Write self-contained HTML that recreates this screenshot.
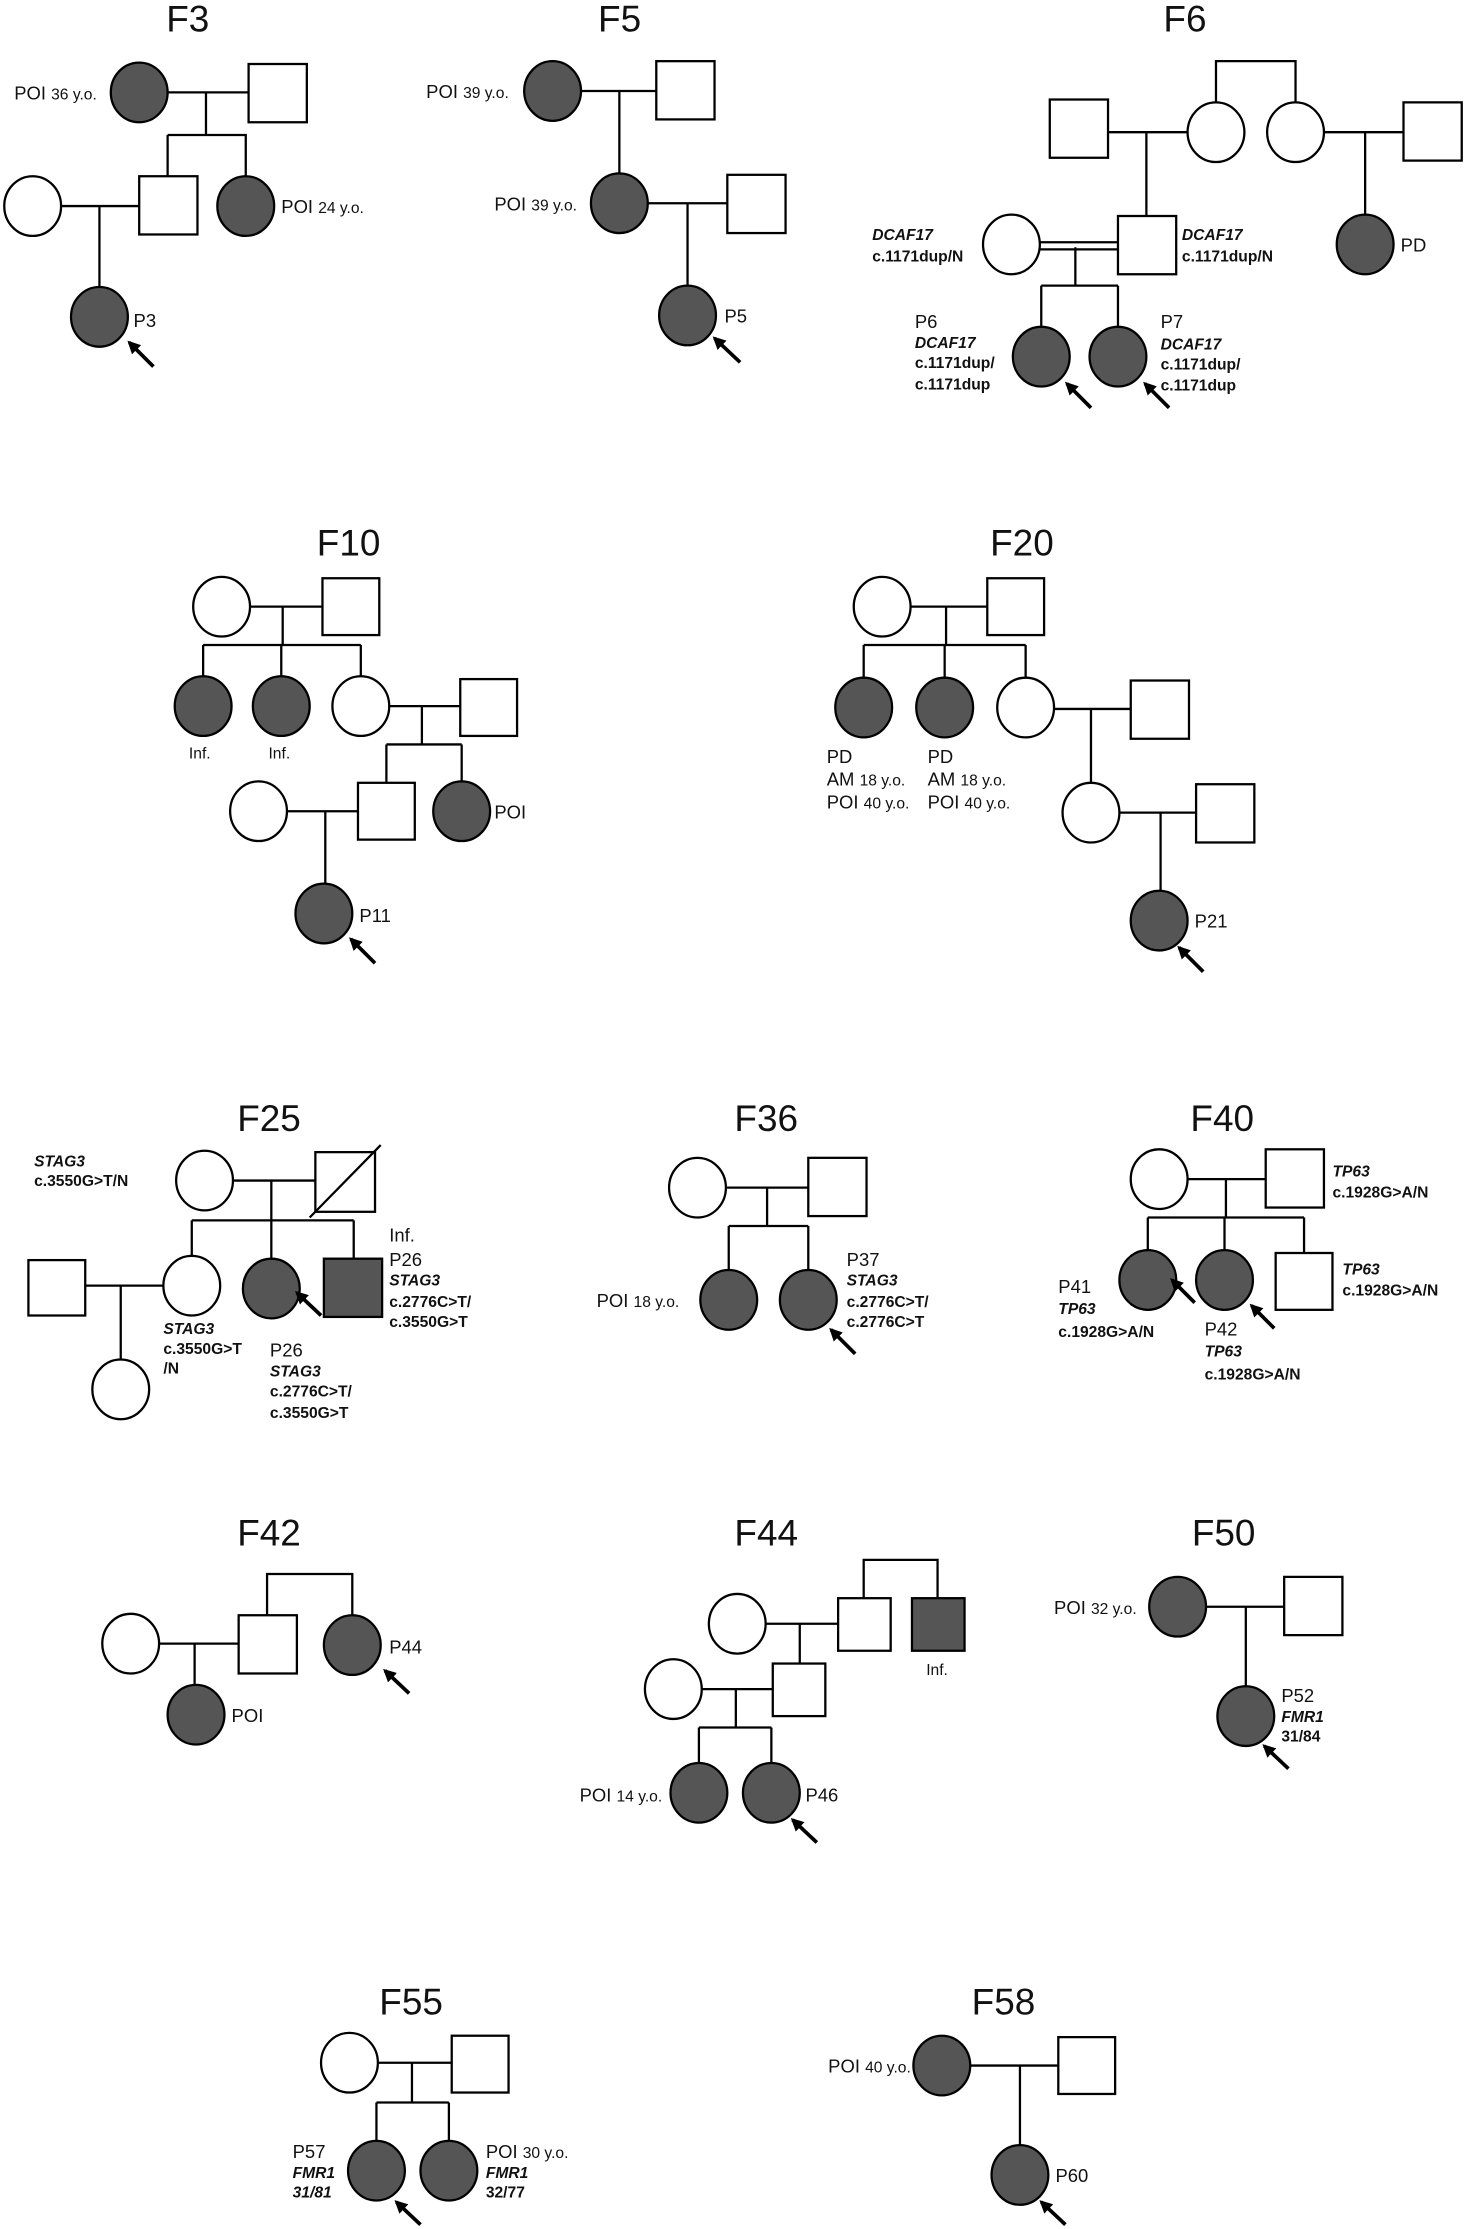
<!DOCTYPE html>
<html><head><meta charset="utf-8"><style>
html,body{margin:0;padding:0;background:#fff}
svg{display:block}
text{font-family:"Liberation Sans",Arial,sans-serif;fill:#111}
.t{font-size:26px}
.l{font-size:13px}
.s{font-size:11px}
.g{font-size:11px;font-weight:bold;font-style:italic}
.b{font-size:11px;font-weight:bold}
.f{fill:#555;stroke:#000;stroke-width:1.6}
.o{fill:#fff;stroke:#000;stroke-width:1.6}
.ln{stroke:#000;stroke-width:1.6;fill:none}
.ar{stroke:#000;stroke-width:2.6;marker-end:url(#ah)}
</style></head><body>
<svg width="1466" height="2229" viewBox="0 0 1032 1569" xmlns="http://www.w3.org/2000/svg">
<defs><marker id="ah" viewBox="0 0 10 10" refX="8" refY="5" markerWidth="3.5" markerHeight="3.5" orient="auto"><path d="M0,0 L10,5 L0,10 z" fill="#000"/></marker></defs>

<!-- F3 -->
<text class="t" x="117" y="22">F3</text>
<path class="ln" d="M118 65H175M145 65V95M118 95H173V124M118 95V124M43 145H98M70 145V203"/>
<ellipse class="f" cx="98" cy="65" rx="20" ry="21"/>
<rect class="o" x="175" y="45" width="41" height="41"/>
<rect class="o" x="98" y="124" width="41" height="41"/>
<ellipse class="f" cx="173" cy="145" rx="20" ry="21"/>
<ellipse class="o" cx="23" cy="145" rx="20" ry="21"/>
<ellipse class="f" cx="70" cy="223" rx="20" ry="21"/>
<text class="l" x="10" y="70">POI <tspan class="s">36 y.o.</tspan></text>
<text class="l" x="198" y="150">POI <tspan class="s">24 y.o.</tspan></text>
<text class="l" x="94" y="230">P3</text>
<line class="ar" x1="108" y1="258" x2="91" y2="241"/>

<!-- F5 -->
<text class="t" x="421" y="22">F5</text>
<path class="ln" d="M409 64H462M436 64V122M456 143H512M484 143V202"/>
<ellipse class="f" cx="389" cy="64" rx="20" ry="21"/>
<rect class="o" x="462" y="43" width="41" height="41"/>
<ellipse class="f" cx="436" cy="143" rx="20" ry="21"/>
<rect class="o" x="512" y="123" width="41" height="41"/>
<ellipse class="f" cx="484" cy="222" rx="20" ry="21"/>
<text class="l" x="300" y="69">POI <tspan class="s">39 y.o.</tspan></text>
<text class="l" x="348" y="148">POI <tspan class="s">39 y.o.</tspan></text>
<text class="l" x="510" y="227">P5</text>
<line class="ar" x1="521" y1="255" x2="503" y2="238"/>

<!-- F6 -->
<text class="t" x="819" y="22">F6</text>
<path class="ln" d="M780 93H836M807 93V152M856 72V43H912V72M932 93H988M961 93V152M757 174V201M733 201H787M733 201V231M787 201V231"/>
<path class="ln" d="M732 170.5H787M732 175.5H787"/>
<rect class="o" x="739" y="70" width="41" height="41"/>
<ellipse class="o" cx="856" cy="93" rx="20" ry="21"/>
<ellipse class="o" cx="912" cy="93" rx="20" ry="21"/>
<rect class="o" x="988" y="72" width="41" height="41"/>
<rect class="o" x="787" y="152" width="41" height="41"/>
<ellipse class="o" cx="712" cy="172" rx="20" ry="21"/>
<ellipse class="f" cx="961" cy="172" rx="20" ry="21"/>
<ellipse class="f" cx="733" cy="251" rx="20" ry="21"/>
<ellipse class="f" cx="787" cy="251" rx="20" ry="21"/>
<text class="g" x="614" y="169">DCAF17</text><text class="b" x="614" y="184">c.1171dup/N</text>
<text class="g" x="832" y="169">DCAF17</text><text class="b" x="832" y="184">c.1171dup/N</text>
<text class="l" x="986" y="177">PD</text>
<text class="l" x="644" y="231">P6</text><text class="g" x="644" y="245">DCAF17</text><text class="b" x="644" y="259">c.1171dup/</text><text class="b" x="644" y="274">c.1171dup</text>
<text class="l" x="817" y="231">P7</text><text class="g" x="817" y="246">DCAF17</text><text class="b" x="817" y="260">c.1171dup/</text><text class="b" x="817" y="275">c.1171dup</text>
<line class="ar" x1="768" y1="287" x2="751" y2="270"/>
<line class="ar" x1="823" y1="287" x2="806" y2="270"/>

<!-- F10 -->
<text class="t" x="223" y="391">F10</text>
<path class="ln" d="M176 427H227M199 427V454M143 454H254M143 454V476M198 454V476M254 454V476M274 497H324M297 497V524M272 524H325M272 524V551M325 524V550M202 571H252M229 571V623"/>
<ellipse class="o" cx="156" cy="427" rx="20" ry="21"/>
<rect class="o" x="227" y="407" width="40" height="40"/>
<ellipse class="f" cx="143" cy="497" rx="20" ry="21"/>
<ellipse class="f" cx="198" cy="497" rx="20" ry="21"/>
<ellipse class="o" cx="254" cy="497" rx="20" ry="21"/>
<rect class="o" x="324" y="478" width="40" height="40"/>
<rect class="o" x="252" y="551" width="40" height="40"/>
<ellipse class="f" cx="325" cy="571" rx="20" ry="21"/>
<ellipse class="o" cx="182" cy="571" rx="20" ry="21"/>
<ellipse class="f" cx="228" cy="643" rx="20" ry="21"/>
<text class="s" x="133" y="534">Inf.</text><text class="s" x="189" y="534">Inf.</text>
<text class="l" x="348" y="576">POI</text>
<text class="l" x="253" y="649">P11</text>
<line class="ar" x1="264" y1="678" x2="247" y2="661"/>

<!-- F20 -->
<text class="t" x="697" y="391">F20</text>
<path class="ln" d="M641 427H695M666 427V454M608 454H722M608 454V477M665 454V477M722 454V477M742 499H796M768 499V551M788 572H842M817 572V627"/>
<ellipse class="o" cx="621" cy="427" rx="20" ry="21"/>
<rect class="o" x="695" y="407" width="40" height="40"/>
<ellipse class="f" cx="608" cy="498" rx="20" ry="21"/>
<ellipse class="f" cx="665" cy="498" rx="20" ry="21"/>
<ellipse class="o" cx="722" cy="498" rx="20" ry="21"/>
<rect class="o" x="796" y="479" width="41" height="41"/>
<ellipse class="o" cx="768" cy="572" rx="20" ry="21"/>
<rect class="o" x="842" y="552" width="41" height="41"/>
<ellipse class="f" cx="816" cy="648" rx="20" ry="21"/>
<text class="l" x="582" y="537">PD</text><text class="l" x="582" y="553">AM <tspan class="s">18 y.o.</tspan></text><text class="l" x="582" y="569">POI <tspan class="s">40 y.o.</tspan></text>
<text class="l" x="653" y="537">PD</text><text class="l" x="653" y="553">AM <tspan class="s">18 y.o.</tspan></text><text class="l" x="653" y="569">POI <tspan class="s">40 y.o.</tspan></text>
<text class="l" x="841" y="653">P21</text>
<line class="ar" x1="847" y1="684" x2="830" y2="667"/>

<!-- F25 -->
<text class="t" x="167" y="796">F25</text>
<path class="ln" d="M164 831H222M191 831V859M135 859H249M135 859V884M191 859V886M249 859V886M60 905H115M85 905V957"/>
<ellipse class="o" cx="144" cy="831" rx="20" ry="21"/>
<rect class="o" x="222" y="811" width="42" height="42"/>
<line class="ln" x1="218" y1="857" x2="268" y2="806"/>
<ellipse class="o" cx="135" cy="905" rx="20" ry="21"/>
<ellipse class="f" cx="191" cy="907" rx="20" ry="21"/>
<rect class="f" x="228" y="886" width="41" height="41"/>
<rect class="o" x="20" y="887" width="40" height="39"/>
<ellipse class="o" cx="85" cy="978" rx="20" ry="21"/>
<text class="g" x="24" y="821">STAG3</text><text class="b" x="24" y="835">c.3550G&gt;T/N</text>
<text class="g" x="115" y="939">STAG3</text><text class="b" x="115" y="953">c.3550G&gt;T</text><text class="b" x="115" y="967">/N</text>
<text class="l" x="190" y="955">P26</text><text class="g" x="190" y="969">STAG3</text><text class="b" x="190" y="983">c.2776C&gt;T/</text><text class="b" x="190" y="998">c.3550G&gt;T</text>
<text class="l" x="274" y="874">Inf.</text><text class="l" x="274" y="891">P26</text><text class="g" x="274" y="905">STAG3</text><text class="b" x="274" y="920">c.2776C&gt;T/</text><text class="b" x="274" y="934">c.3550G&gt;T</text>
<line class="ar" x1="226" y1="926" x2="209" y2="910"/>

<!-- F36 -->
<text class="t" x="517" y="796">F36</text>
<path class="ln" d="M511 836H569M540 836V863M513 863H569M513 863V894M569 863V894"/>
<ellipse class="o" cx="491" cy="836" rx="20" ry="21"/>
<rect class="o" x="569" y="815" width="41" height="41"/>
<ellipse class="f" cx="513" cy="915" rx="20" ry="21"/>
<ellipse class="f" cx="569" cy="915" rx="20" ry="21"/>
<text class="l" x="420" y="920">POI <tspan class="s">18 y.o.</tspan></text>
<text class="l" x="596" y="891">P37</text><text class="g" x="596" y="905">STAG3</text><text class="b" x="596" y="920">c.2776C&gt;T/</text><text class="b" x="596" y="934">c.2776C&gt;T</text>
<line class="ar" x1="602" y1="953" x2="585" y2="936"/>

<!-- F40 -->
<text class="t" x="838" y="796">F40</text>
<path class="ln" d="M836 830H891M863 830V857M808 857H918M808 857V880M862 857V880M918 857V882"/>
<ellipse class="o" cx="816" cy="830" rx="20" ry="21"/>
<rect class="o" x="891" y="809" width="41" height="41"/>
<ellipse class="f" cx="808" cy="901" rx="20" ry="21"/>
<ellipse class="f" cx="862" cy="901" rx="20" ry="21"/>
<rect class="o" x="898" y="882" width="40" height="40"/>
<text class="g" x="938" y="828">TP63</text><text class="b" x="938" y="843">c.1928G&gt;A/N</text>
<text class="g" x="945" y="897">TP63</text><text class="b" x="945" y="912">c.1928G&gt;A/N</text>
<text class="l" x="745" y="910">P41</text><text class="g" x="745" y="925">TP63</text><text class="b" x="745" y="941">c.1928G&gt;A/N</text>
<text class="l" x="848" y="940">P42</text><text class="g" x="848" y="955">TP63</text><text class="b" x="848" y="971">c.1928G&gt;A/N</text>
<line class="ar" x1="841" y1="917" x2="825" y2="901"/>
<line class="ar" x1="897" y1="935" x2="881" y2="919"/>

<!-- F42 -->
<text class="t" x="167" y="1088">F42</text>
<path class="ln" d="M112 1157H168M137 1157V1187M188 1137V1108H248V1137"/>
<ellipse class="o" cx="92" cy="1157" rx="20" ry="21"/>
<rect class="o" x="168" y="1137" width="41" height="41"/>
<ellipse class="f" cx="138" cy="1207" rx="20" ry="21"/>
<ellipse class="f" cx="248" cy="1158" rx="20" ry="21"/>
<text class="l" x="163" y="1212">POI</text>
<text class="l" x="274" y="1164">P44</text>
<line class="ar" x1="288" y1="1192" x2="271" y2="1176"/>

<!-- F44 -->
<text class="t" x="517" y="1088">F44</text>
<path class="ln" d="M608 1125V1098H660V1125M539 1143H590M563 1143V1171M494 1189H544M518 1189V1216M492 1216H543M492 1216V1242M543 1216V1242"/>
<ellipse class="o" cx="519" cy="1143" rx="20" ry="21"/>
<rect class="o" x="590" y="1125" width="37" height="37"/>
<rect class="f" x="642" y="1125" width="37" height="37"/>
<ellipse class="o" cx="474" cy="1189" rx="20" ry="21"/>
<rect class="o" x="544" y="1171" width="37" height="37"/>
<ellipse class="f" cx="492" cy="1262" rx="20" ry="21"/>
<ellipse class="f" cx="543" cy="1262" rx="20" ry="21"/>
<text class="s" x="652" y="1179">Inf.</text>
<text class="l" x="408" y="1268">POI <tspan class="s">14 y.o.</tspan></text>
<text class="l" x="567" y="1268">P46</text>
<line class="ar" x1="575" y1="1297" x2="558" y2="1281"/>

<!-- F50 -->
<text class="t" x="839" y="1088">F50</text>
<path class="ln" d="M849 1131H904M877 1131V1188"/>
<ellipse class="f" cx="829" cy="1131" rx="20" ry="21"/>
<rect class="o" x="904" y="1110" width="41" height="41"/>
<ellipse class="f" cx="877" cy="1208" rx="20" ry="21"/>
<text class="l" x="742" y="1136">POI <tspan class="s">32 y.o.</tspan></text>
<text class="l" x="902" y="1198">P52</text><text class="g" x="902" y="1212">FMR1</text><text class="b" x="902" y="1226">31/84</text>
<line class="ar" x1="907" y1="1245" x2="890" y2="1229"/>

<!-- F55 -->
<text class="t" x="267" y="1418">F55</text>
<path class="ln" d="M266 1452H318M290 1452V1480M265 1480H316M265 1480V1507M316 1480V1507"/>
<ellipse class="o" cx="246" cy="1452" rx="20" ry="21"/>
<rect class="o" x="318" y="1433" width="40" height="40"/>
<ellipse class="f" cx="265" cy="1528" rx="20" ry="21"/>
<ellipse class="f" cx="316" cy="1528" rx="20" ry="21"/>
<text class="l" x="206" y="1519">P57</text><text class="g" x="206" y="1533">FMR1</text><text class="g" x="206" y="1547">31/81</text>
<text class="l" x="342" y="1519">POI <tspan class="s">30 y.o.</tspan></text><text class="g" x="342" y="1533">FMR1</text><text class="b" x="342" y="1547">32/77</text>
<line class="ar" x1="296" y1="1566" x2="279" y2="1550"/>

<!-- F58 -->
<text class="t" x="684" y="1418">F58</text>
<path class="ln" d="M683 1454H745M718 1454V1511"/>
<ellipse class="f" cx="663" cy="1454" rx="20" ry="21"/>
<rect class="o" x="745" y="1434" width="40" height="40"/>
<ellipse class="f" cx="718" cy="1531" rx="20" ry="21"/>
<text class="l" x="583" y="1459">POI <tspan class="s">40 y.o.</tspan></text>
<text class="l" x="743" y="1536">P60</text>
<line class="ar" x1="750" y1="1566" x2="733" y2="1550"/>
</svg>
</body></html>
